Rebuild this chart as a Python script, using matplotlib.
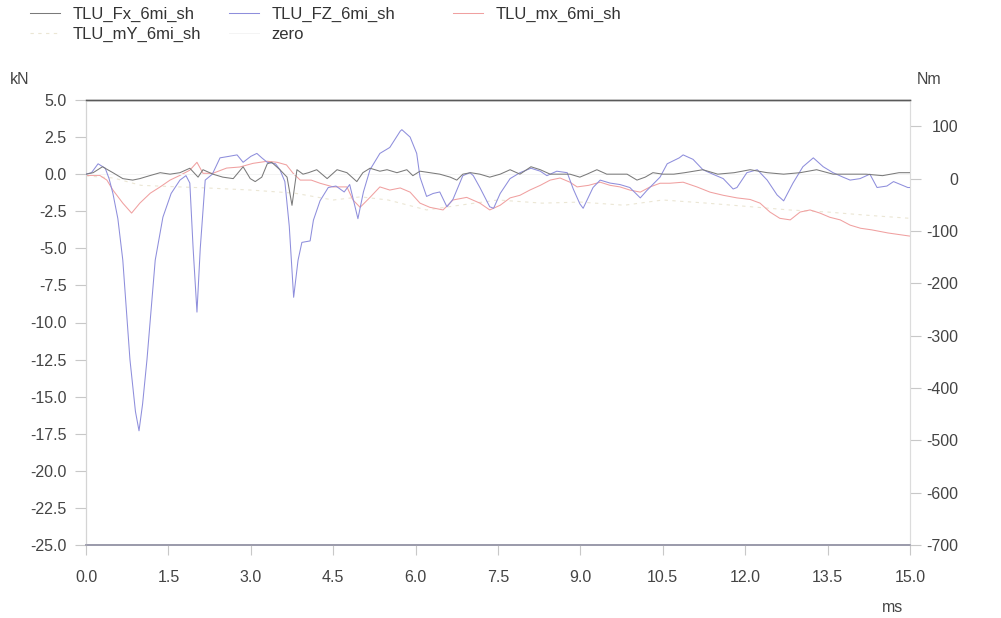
import matplotlib
matplotlib.use("Agg")
import matplotlib.pyplot as plt
import numpy as np

plt.rcParams['font.family'] = ['Liberation Sans', 'DejaVu Sans']

# ---- data (ms, kN / Nm) ----
fz_t = [0.0, 0.1, 0.22, 0.35, 0.42, 0.49, 0.58, 0.67, 0.80, 0.90, 0.965, 1.03, 1.11, 1.26, 1.40, 1.55,
        1.71, 1.82, 1.89, 1.95, 2.02, 2.08, 2.17, 2.3, 2.44, 2.6, 2.75, 2.86, 3.0, 3.11, 3.2, 3.30,
        3.45, 3.53, 3.62, 3.70, 3.78, 3.86, 3.93, 4.08, 4.14, 4.26, 4.41, 4.55, 4.7, 4.8, 4.95, 5.05,
        5.17, 5.35, 5.53, 5.72, 5.75, 5.9, 6.02, 6.08, 6.2, 6.32, 6.44, 6.57, 6.68, 6.86, 6.99, 7.05,
        7.17, 7.35, 7.42, 7.54, 7.72, 7.9, 8.1, 8.27, 8.39, 8.57, 8.76, 8.87, 8.99, 9.05, 9.23, 9.36,
        9.54, 9.72, 9.9, 10.09, 10.21, 10.45, 10.58, 10.8, 10.87, 11.05, 11.23, 11.41, 11.6, 11.78,
        11.85, 12.03, 12.22, 12.4, 12.58, 12.7, 12.87, 13.05, 13.24, 13.42, 13.6, 13.78, 13.91, 14.09,
        14.27, 14.4, 14.58, 14.7, 14.96, 15.0]
fz_v = [0.0, 0.1, 0.7, 0.4, -0.3, -1.3, -3.0, -5.8, -12.5, -16.0, -17.3, -15.5, -12.5, -5.8, -2.9, -1.3,
        -0.4, -0.1, -0.6, -5.0, -9.3, -5.0, -0.4, 0.0, 1.1, 1.2, 1.3, 0.8, 1.2, 1.4, 1.1, 0.8,
        0.7, 0.3, -0.5, -3.5, -8.3, -5.8, -4.6, -4.5, -3.1, -1.8, -0.9, -0.8, -1.2, -0.7, -3.0, -1.2,
        0.3, 1.4, 1.8, 2.9, 3.0, 2.5, 1.4, -0.2, -1.5, -1.3, -1.2, -2.2, -1.7, -0.1, 0.1, -0.1,
        -0.9, -2.2, -2.3, -1.3, -0.3, 0.1, 0.4, 0.2, -0.1, 0.2, 0.1, -1.0, -2.0, -2.3, -0.9, -0.4,
        -0.6, -0.7, -0.9, -1.6, -1.1, -0.2, 0.7, 1.1, 1.3, 1.0, 0.3, 0.0, -0.3, -1.0,
        -0.9, 0.1, 0.3, -0.4, -1.4, -1.8, -0.6, 0.5, 1.1, 0.5, 0.1, -0.2, -0.4, -0.3,
        0.0, -0.9, -0.8, -0.5, -0.9, -0.9]

fx_t = [0.0, 0.13, 0.3, 0.49, 0.67, 0.85, 0.98, 1.16, 1.35, 1.53, 1.71, 1.89, 2.04, 2.13, 2.31, 2.49,
        2.68, 2.86, 2.99, 3.08, 3.2, 3.3, 3.38, 3.53, 3.66, 3.75, 3.84, 3.95, 4.05, 4.2, 4.39, 4.57,
        4.75, 4.93, 5.04, 5.17, 5.35, 5.48, 5.66, 5.84, 5.95, 6.08, 6.26, 6.44, 6.63, 6.75, 6.86, 7.0,
        7.17, 7.35, 7.54, 7.72, 7.9, 8.1, 8.27, 8.45, 8.63, 8.81, 8.99, 9.12, 9.3, 9.48, 9.66, 9.85,
        10.03, 10.18, 10.32, 10.5, 10.7, 10.9, 11.23, 11.5, 11.8, 12.09, 12.4, 12.7, 13.0, 13.3, 13.6,
        13.9, 14.2, 14.5, 14.8, 15.0]
fx_v = [0.0, 0.1, 0.5, 0.1, -0.3, -0.4, -0.3, -0.1, 0.1, 0.0, 0.1, 0.4, -0.2, 0.3, 0.0, -0.2,
        -0.3, 0.5, -0.3, -0.5, -0.2, 0.7, 0.8, 0.3, -0.2, -2.1, 0.3, 0.0, 0.1, 0.3, -0.3, 0.3,
        0.1, -0.5, 0.1, 0.4, 0.2, 0.3, 0.1, 0.3, -0.1, 0.2, 0.1, 0.0, -0.2, -0.4, 0.0, 0.1,
        0.0, -0.2, 0.0, 0.3, 0.0, 0.5, 0.3, 0.0, 0.0, 0.0, -0.2, 0.0, 0.3, 0.0, 0.0, 0.0,
        -0.4, -0.2, 0.1, 0.0, 0.0, 0.1, 0.3, 0.0, 0.1, 0.3, 0.1, 0.0, 0.1, 0.3, 0.0,
        0.0, 0.0, -0.1, 0.1, 0.1]

mx_t = [0.0, 0.25, 0.38, 0.49, 0.67, 0.83, 0.98, 1.17, 1.35, 1.53, 1.71, 1.89, 2.02, 2.13, 2.31, 2.56,
        2.8, 3.04, 3.3, 3.48, 3.65, 3.77, 3.9, 4.1, 4.26, 4.5, 4.75, 4.86, 4.99, 5.17, 5.35, 5.53,
        5.72, 5.9, 6.08, 6.26, 6.5, 6.68, 6.93, 7.17, 7.35, 7.54, 7.72, 7.9, 8.08, 8.27, 8.45, 8.63,
        8.81, 8.94, 9.15, 9.36, 9.54, 9.72, 9.9, 10.09, 10.27, 10.45, 10.63, 10.87, 11.12, 11.36, 11.6,
        11.85, 12.09, 12.27, 12.45, 12.63, 12.82, 13.0, 13.18, 13.36, 13.54, 13.73, 13.91, 14.1, 14.3,
        14.6, 15.0]
mx_v = [6, 6, -3, -22, -47, -66, -47, -28, -16, -3, 6, 16, 31, 10, 10, 20,
        22, 29, 33, 31, 26, 10, -3, -3, -9, -16, -16, -41, -55, -36, -16, -22,
        -18, -26, -47, -55, -60, -41, -36, -47, -60, -51, -37, -32, -22, -13, -3, 1,
        -7, -16, -13, -7, -13, -16, -22, -26, -16, -9, -9, -7, -16, -26, -32,
        -37, -40, -47, -64, -76, -79, -64, -60, -66, -74, -79, -89, -95, -98,
        -104, -110]

my_t = [0.0, 0.5, 1.0, 1.7, 2.2, 3.0, 3.8, 4.5, 5.0, 5.5, 6.2, 6.8, 7.5, 8.3, 9.0, 9.8, 10.5, 11.3,
        12.0, 12.8, 13.5, 14.2, 15.0]
my_v = [5, 1, -13, -16, -18, -22, -28, -41, -35, -41, -60, -51, -41, -47, -45, -51, -41, -47,
        -53, -60, -64, -70, -76]

zero_t = [0.0, 15.0]
zero_v = [0.0, 0.0]

x_ticks = [0.0, 1.5, 3.0, 4.5, 6.0, 7.5, 9.0, 10.5, 12.0, 13.5, 15.0]
yl_ticks = [5.0, 2.5, 0.0, -2.5, -5.0, -7.5, -10.0, -12.5, -15.0, -17.5, -20.0, -22.5, -25.0]
yr_ticks = [100, 0, -100, -200, -300, -400, -500, -600, -700]

# ---- figure ----
W, H = 1001, 618
fig = plt.figure(figsize=(W / 100, H / 100), dpi=100)
ax = fig.add_axes([86 / W, 1 - 545 / H, (910 - 86) / W, (545 - 100) / H])
ax2 = ax.twinx()

c_fx = '#7a7a7a'
c_fz = '#8e8edc'
c_mx = '#f0a0a0'
c_my = '#ebe6d4'
c_zero = '#f4f4f4'

lz, = ax.plot(zero_t, zero_v, color=c_zero, lw=0.7, zorder=1, label='zero')
lmy, = ax2.plot(my_t, my_v, color=c_my, lw=0.8, ls=(0, (3, 4)), label='TLU_mY_6mi_sh')
lmx, = ax2.plot(mx_t, mx_v, color=c_mx, lw=0.75, label='TLU_mx_6mi_sh')
lfz, = ax.plot(fz_t, fz_v, color=c_fz, lw=0.75, zorder=3, label='TLU_FZ_6mi_sh')
lfx, = ax.plot(fx_t, fx_v, color=c_fx, lw=0.75, zorder=4, label='TLU_Fx_6mi_sh')

ax.set_zorder(ax2.get_zorder() + 1)
ax.patch.set_visible(False)

ax.set_xlim(0, 15)
ax.set_ylim(-25, 5)
ax2.set_ylim(-700, 150)

ax.set_xticks(x_ticks)
ax.set_xticklabels([f'{v:.1f}' for v in x_ticks])
ax.set_yticks(yl_ticks)
ax.set_yticklabels([f'{v:.1f}' for v in yl_ticks])
ax2.set_yticks(yr_ticks)
ax2.set_yticklabels([str(v) for v in yr_ticks])

tick_col = '#c8c8c8'
lab_col = '#444444'
fs = 11.5
ax.tick_params(axis='x', direction='out', length=7, width=0.8, color=tick_col,
               labelcolor=lab_col, labelsize=fs, pad=11)
ax.tick_params(axis='y', direction='out', length=8, width=0.8, color=tick_col,
               labelcolor=lab_col, labelsize=fs, pad=6)
ax2.tick_params(axis='y', direction='out', length=8, width=0.8, color=tick_col,
                labelcolor=lab_col, labelsize=fs, pad=27)
for lbl in ax2.get_yticklabels():
    lbl.set_horizontalalignment('right')

for a in (ax, ax2):
    a.spines['top'].set_color('#5a5a5a')
    a.spines['top'].set_linewidth(1.0)
    a.spines['bottom'].set_color('#9a9aaa')
    a.spines['bottom'].set_linewidth(1.2)
    a.spines['left'].set_color('#d4d4d4')
    a.spines['left'].set_linewidth(0.8)
    a.spines['right'].set_color('#dcdcdc')
    a.spines['right'].set_linewidth(0.8)

fig.text(20 / W, 1 - 80 / H, 'kN', fontsize=fs, color=lab_col, ha='center', va='center')
fig.text(929 / W, 1 - 80 / H, 'Nm', fontsize=fs, color=lab_col, ha='center', va='center')
fig.text(893 / W, 1 - 607 / H, 'ms', fontsize=fs, color=lab_col, ha='center', va='center')

leg_kw = dict(frameon=False, fontsize=12, handlelength=1.8, handletextpad=0.75,
              labelspacing=0.3, borderaxespad=0, borderpad=0, labelcolor='#333333')
fig.legend(handles=[lfx, lmy], loc='upper left', bbox_to_anchor=(30 / W, 1 - 7 / H), **leg_kw)
fig.legend(handles=[lfz, lz], loc='upper left', bbox_to_anchor=(229 / W, 1 - 7 / H), **leg_kw)
fig.legend(handles=[lmx], loc='upper left', bbox_to_anchor=(453 / W, 1 - 7 / H), **leg_kw)

fig.savefig('out.png', dpi=100)
